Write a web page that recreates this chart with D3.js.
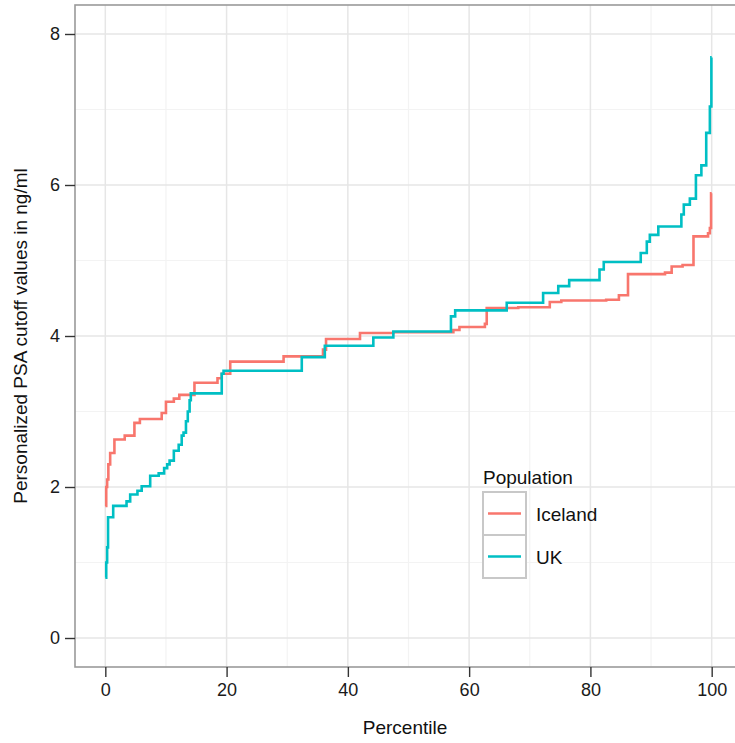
<!DOCTYPE html>
<html>
<head>
<meta charset="utf-8">
<script src="https://cdn.jsdelivr.net/npm/d3@7"></script>
<style>
  body { margin: 0; background: #fff; }
  svg { font-family: "Liberation Sans", Arial, sans-serif; }
</style>
</head>
<body>
<div id="chart"></div>
<script>
// Percentile -> cutoff value, step functions
const iceland = [
  [0, 1.75], [0.15, 2.0], [0.3, 2.1], [0.5, 2.3], [0.8, 2.45], [1.5, 2.63],
  [3.2, 2.68], [4.8, 2.85], [5.7, 2.9], [9.3, 2.98], [10, 3.13], [11.3, 3.17],
  [12.2, 3.22], [14.7, 3.38], [18.5, 3.44], [19.2, 3.5], [20.6, 3.66], [29.4, 3.73],
  [35.9, 3.82], [36.4, 3.96], [42, 4.04], [47.5, 4.05], [57.4, 4.08], [58.4, 4.12],
  [62.6, 4.16], [62.9, 4.37], [68.1, 4.38], [73.3, 4.45], [75.2, 4.47], [82.6, 4.48],
  [84.7, 4.54], [86.2, 4.82], [92.3, 4.84], [93.4, 4.92], [95.2, 4.94], [97.0, 5.32],
  [99.4, 5.36], [99.7, 5.43], [99.9, 5.89], [100, 5.89]
];

const uk = [
  [0, 0.8], [0.15, 1.0], [0.3, 1.2], [0.45, 1.6], [1.3, 1.75], [3.5, 1.81],
  [4.1, 1.9], [5.3, 1.95], [6, 2.01], [7.4, 2.15], [8.8, 2.18], [9.7, 2.25],
  [10.2, 2.3], [10.6, 2.35], [11.3, 2.48], [12.1, 2.56], [12.6, 2.68], [12.9, 2.72],
  [13.3, 2.87], [13.6, 3.0], [13.9, 3.15], [14.1, 3.24], [19.2, 3.5], [19.5, 3.54],
  [32.4, 3.72], [36.2, 3.87], [44.2, 3.98], [47.5, 4.06], [57, 4.26], [57.7, 4.34],
  [66.2, 4.44], [72.2, 4.57], [74.7, 4.66], [76.5, 4.74], [81.5, 4.88], [82.2, 4.98],
  [88.3, 5.1], [89.3, 5.25], [89.8, 5.34], [91.2, 5.45], [95, 5.61], [95.4, 5.74],
  [96.4, 5.82], [97.4, 6.13], [98.3, 6.26], [99.1, 6.69], [99.7, 7.04], [99.95, 7.69],
  [100, 7.69]
];

const seriesNames = ["Iceland", "UK"];
const seriesColors = ["#F8766D", "#00BFC4"];
const xTicks = [0, 20, 40, 60, 80, 100];
const xMinor = [10, 30, 50, 70, 90];
const yTicks = [0, 2, 4, 6, 8];
const yMinor = [1, 3, 5, 7];

const width = 735, height = 743;
const panel = { left: 75, top: 5, right: 742, bottom: 667 };

const svg = d3.select("#chart").append("svg")
  .attr("width", width)
  .attr("height", height);

const x = d3.scaleLinear().domain([-5, 105]).range([panel.left, panel.right]);
const y = d3.scaleLinear().domain([-0.384, 8.384]).range([panel.bottom, panel.top]);

// grid
const grid = svg.append("g");
grid.selectAll("line.xminor").data(xMinor).join("line")
  .attr("x1", d => x(d)).attr("x2", d => x(d))
  .attr("y1", panel.top).attr("y2", panel.bottom)
  .attr("stroke", "#f3f3f3").attr("stroke-width", 1.2);
grid.selectAll("line.yminor").data(yMinor).join("line")
  .attr("y1", d => y(d)).attr("y2", d => y(d))
  .attr("x1", panel.left).attr("x2", panel.right)
  .attr("stroke", "#f3f3f3").attr("stroke-width", 1.2);
grid.selectAll("line.xmajor").data(xTicks).join("line")
  .attr("x1", d => x(d)).attr("x2", d => x(d))
  .attr("y1", panel.top).attr("y2", panel.bottom)
  .attr("stroke", "#e6e6e6").attr("stroke-width", 1.5);
grid.selectAll("line.ymajor").data(yTicks).join("line")
  .attr("y1", d => y(d)).attr("y2", d => y(d))
  .attr("x1", panel.left).attr("x2", panel.right)
  .attr("stroke", "#e6e6e6").attr("stroke-width", 1.5);

// lines
const line = d3.line()
  .x(d => x(d[0]))
  .y(d => y(d[1]))
  .curve(d3.curveStepAfter);

[iceland, uk].forEach((data, i) => {
  svg.append("path")
    .datum(data)
    .attr("fill", "none")
    .attr("stroke", seriesColors[i])
    .attr("stroke-width", 2.6)
    .attr("d", line);
});

// panel border
svg.append("rect")
  .attr("x", panel.left).attr("y", panel.top)
  .attr("width", panel.right - panel.left)
  .attr("height", panel.bottom - panel.top)
  .attr("fill", "none")
  .attr("stroke", "#9a9a9a")
  .attr("stroke-width", 1.6);

// axes
const xAxis = d3.axisBottom(x).tickValues(xTicks).tickSize(10).tickPadding(6);
const yAxis = d3.axisLeft(y).tickValues(yTicks).tickSize(10).tickPadding(5);

svg.append("g")
  .attr("transform", `translate(0,${panel.bottom})`)
  .call(xAxis)
  .call(g => g.select(".domain").remove())
  .call(g => g.selectAll(".tick line").attr("stroke", "#333").attr("stroke-width", 1.4))
  .call(g => g.selectAll(".tick text").attr("fill", "#1a1a1a").attr("font-size", 18));

svg.append("g")
  .attr("transform", `translate(${panel.left},0)`)
  .call(yAxis)
  .call(g => g.select(".domain").remove())
  .call(g => g.selectAll(".tick line").attr("stroke", "#333").attr("stroke-width", 1.4))
  .call(g => g.selectAll(".tick text").attr("fill", "#1a1a1a").attr("font-size", 18));

// axis titles
svg.append("text")
  .attr("x", 405).attr("y", 734)
  .attr("text-anchor", "middle")
  .attr("font-size", 19)
  .attr("fill", "#111")
  .text("Percentile");

svg.append("text")
  .attr("transform", "translate(27,336) rotate(-90)")
  .attr("text-anchor", "middle")
  .attr("font-size", 19)
  .attr("fill", "#111")
  .text("Personalized PSA cutoff values in ng/ml");

// legend
const legend = svg.append("g").attr("transform", "translate(483,470)");
legend.append("text")
  .attr("x", 0).attr("y", 14)
  .attr("font-size", 19)
  .attr("fill", "#111")
  .text("Population");

seriesNames.forEach((name, i) => {
  const row = legend.append("g").attr("transform", `translate(0,${22 + i * 43})`);
  row.append("rect")
    .attr("width", 43).attr("height", 43)
    .attr("fill", "#fff")
    .attr("stroke", "#c8c8c8").attr("stroke-width", 2);
  row.append("line")
    .attr("x1", 5).attr("x2", 38)
    .attr("y1", 21.5).attr("y2", 21.5)
    .attr("stroke", seriesColors[i]).attr("stroke-width", 2.6);
  row.append("text")
    .attr("x", 53).attr("y", 22)
    .attr("dy", "0.35em")
    .attr("font-size", 19)
    .attr("fill", "#111")
    .text(name);
});
</script>
</body>
</html>
